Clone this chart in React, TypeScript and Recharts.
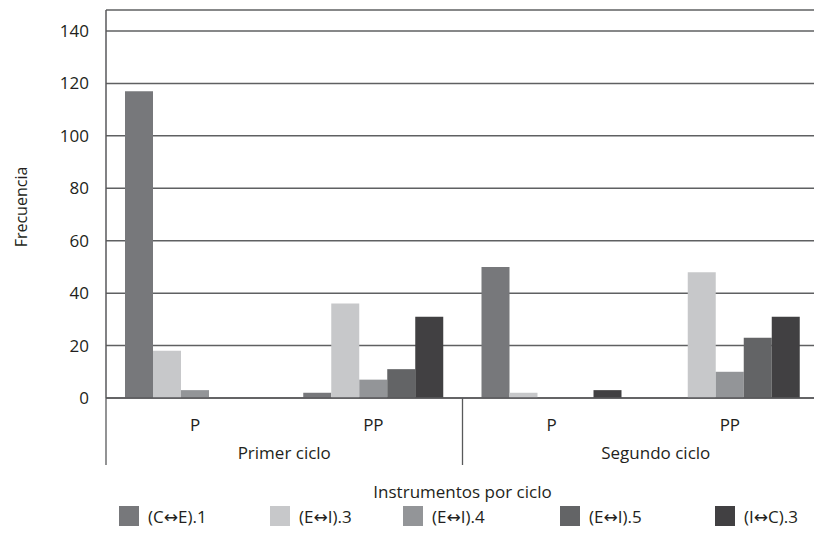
import React from 'react';
import { BarChart, Bar, XAxis, YAxis, CartesianGrid, Legend } from 'recharts';

// Category labels (two levels) and series
const groups = ['Primer ciclo', 'Segundo ciclo'];
const categories = ['P', 'PP', 'P', 'PP'];
const seriesNames = ['(C↔E).1', '(E↔I).3', '(E↔I).4', '(E↔I).5', '(I↔C).3'];
const ceValues = [117, 2, 50, 0];
const ei3Values = [18, 36, 2, 48];
const ei4Values = [3, 7, 0, 10];
const ei5Values = [0, 11, 0, 23];
const icValues = [0, 31, 3, 31];
const yTicks = [0, 20, 40, 60, 80, 100, 120, 140];

const colors = ['#77787b', '#c7c8ca', '#939598', '#636466', '#414042'];
const seriesValues = [ceValues, ei3Values, ei4Values, ei5Values, icValues];

const data = categories.map((cat, i) => {
  const row: Record<string, string | number> = {
    id: `${groups[Math.floor(i / 2)]}-${cat}-${i}`,
  };
  seriesNames.forEach((name, s) => {
    row[name] = seriesValues[s][i];
  });
  return row;
});

const CHART_W = 819;
const CHART_H = 560;
const Y_AXIS_W = 106;
const SLOT = (CHART_W - Y_AXIS_W) / categories.length;
const FONT = '"Open Sans", "DejaVu Sans", sans-serif';
const TEXT = '#231f20';
const LINE = '#58595b';
const FS = 17;

const groupLabelShift = [0, 15];

const CategoryTick = (props: any) => {
  const { x, y, index } = props;
  const groupIdx = Math.floor(index / 2);
  const first = index % 2 === 0;
  return (
    <g>
      <text x={x} y={y + 33} textAnchor="middle" fontSize={FS} fill={TEXT} fontFamily={FONT}>
        {categories[index]}
      </text>
      {first && (
        <>
          <line x1={x - SLOT / 2} x2={x - SLOT / 2} y1={y} y2={y + 67} stroke={LINE} strokeWidth={1.3} />
          <text
            x={x + SLOT / 2 + groupLabelShift[groupIdx]}
            y={y + 61}
            textAnchor="middle"
            fontSize={FS}
            fill={TEXT}
            fontFamily={FONT}
          >
            {groups[groupIdx]}
          </text>
        </>
      )}
    </g>
  );
};

const legendX = [119, 270, 403, 560, 715];

const renderLegend = () => (
  <div style={{ position: 'relative', width: CHART_W, height: 28 }}>
    {seriesNames.map((name, i) => (
      <div
        key={name}
        style={{
          position: 'absolute',
          left: legendX[i],
          top: 0,
          height: 28,
          display: 'flex',
          alignItems: 'center',
          whiteSpace: 'nowrap',
          fontFamily: FONT,
          fontSize: FS,
          color: TEXT,
        }}
      >
        <span style={{ display: 'inline-block', width: 20, height: 20, background: colors[i], marginRight: 9 }} />
        {name}
      </div>
    ))}
  </div>
);

const App = () => {
  return (
    <div
      style={{
        position: 'fixed',
        left: 0,
        top: 0,
        width: 814,
        height: 560,
        overflow: 'hidden',
        background: '#fff',
      }}
    >
      <BarChart
        width={CHART_W}
        height={CHART_H}
        data={data}
        margin={{ top: 10, right: 0, left: 0, bottom: 30 }}
        barCategoryGap={19}
        barGap={0}
      >
        <CartesianGrid vertical={false} stroke="#5f6062" strokeWidth={1.5} />
        <XAxis
          dataKey="id"
          height={104}
          tickLine={false}
          tickSize={0}
          tickMargin={0}
          interval={0}
          axisLine={{ stroke: LINE, strokeWidth: 1.5 }}
          tick={<CategoryTick />}
          label={{
            value: 'Instrumentos por ciclo',
            position: 'insideBottom',
            offset: 4,
            fontSize: FS,
            fill: TEXT,
            fontFamily: FONT,
          }}
        />
        <YAxis
          width={Y_AXIS_W}
          domain={[0, 148]}
          ticks={yTicks}
          tickLine={false}
          tickMargin={11}
          axisLine={{ stroke: LINE, strokeWidth: 1.5 }}
          tick={{ fontSize: FS, fill: TEXT, fontFamily: FONT }}
          label={{
            content: ({ viewBox }: any) => {
              const cx = viewBox.x + 21;
              const cy = viewBox.y + viewBox.height / 2 + 3;
              return (
                <text
                  x={cx}
                  y={cy}
                  transform={`rotate(-90, ${cx}, ${cy})`}
                  textAnchor="middle"
                  dominantBaseline="central"
                  fontSize={FS - 1}
                  fill={TEXT}
                  fontFamily={FONT}
                >
                  Frecuencia
                </text>
              );
            },
          }}
        />
        <Legend verticalAlign="bottom" content={renderLegend} />
        {seriesNames.map((name, i) => (
          <Bar key={name} dataKey={name} fill={colors[i]} isAnimationActive={false} />
        ))}
      </BarChart>
    </div>
  );
};

export default App;
